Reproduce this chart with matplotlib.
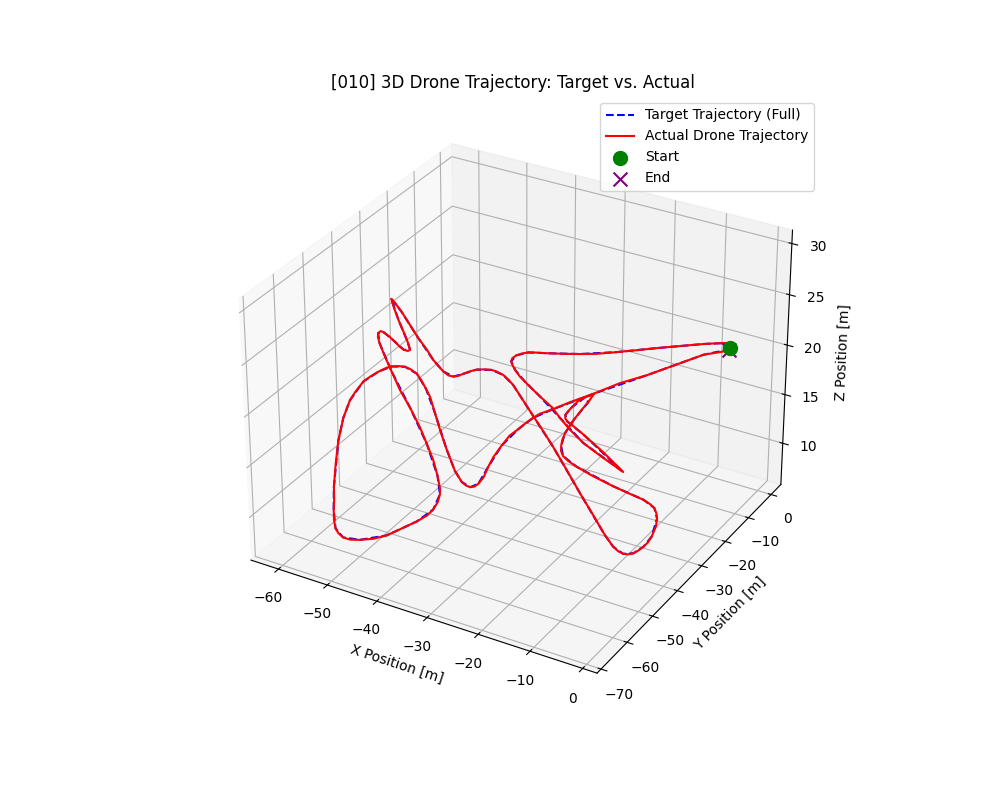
import matplotlib
matplotlib.use('Agg')
import matplotlib.pyplot as plt

# Actual drone trajectory [m]
actual_x = [-5.3,-5.2,-5.7,-6.2,-8.8,-12.0,-15.1,-17.8,-20.5,-23.2,-25.7,-28.2,-30.8,-32.7,-33.7,-34.5,-35.0,-35.1,-34.7,-33.8,
            -32.5,-30.8,-29.2,-27.6,-24.4,-20.7,-17.9,-14.6,-10.5,-6.1,-5.2,-11.2,-16.9,-20.3,-21.4,-22.2,-22.8,-23.0,-23.1,-23.2,
            -22.8,-22.0,-21.5,-21.2,-20.7,-20.2,-19.8,-19.1,-18.3,-17.5,-16.4,-14.8,-12.7,-8.9,-5.0,-3.8,-3.2,-2.8,-2.6,-2.1,
            -1.8,-1.8,-1.5,-1.2,-1.2,-1.4,-1.7,-2.3,-3.1,-4.2,-5.6,-7.3,-8.6,-13.4,-18.2,-23.4,-28.5,-32.1,-35.6,-39.7,
            -42.2,-42.9,-44.0,-45.6,-46.7,-47.9,-49.1,-49.8,-50.4,-50.8,-51.4,-52.4,-53.0,-53.2,-53.6,-54.2,-54.9,-55.8,-56.7,-57.2,
            -57.7,-55.5,-52.6,-49.7,-47.2,-45.8,-45.3,-45.4,-46.2,-47.6,-49.1,-51.1,-52.4,-53.1,-53.1,-52.4,-51.0,-47.8,-44.1,-42.9,
            -41.4,-39.7,-37.2,-35.4,-34.2,-32.9,-33.1,-32.8,-33.6,-34.2,-35.9,-38.0,-41.2,-43.3,-45.6,-47.8,-49.2,-50.6,-51.9,-53.6,
            -55.4,-57.1,-58.4,-58.7,-58.6,-58.5,-57.9,-58.0,-57.9,-57.7,-56.9,-56.6,-55.9,-55.4,-54.9,-53.9,-52.8,-51.5,-49.7,-47.8,
            -45.6,-43.5,-39.8,-36.2,-33.5,-32.1,-31.1,-30.2,-29.6,-28.4,-27.5,-27.0,-26.9,-27.2,-28.2,-29.1,-29.8,-30.3,-30.1,-30.0,
            -29.8,-29.5,-28.4,-26.9,-24.8,-21.4,-17.5,-12.2,-8.6,-6.1,-5.3]
actual_y = [-2.6,-3.5,-3.7,-4.5,-6.6,-9.6,-12.5,-15.2,-17.8,-20.3,-22.0,-23.5,-24.9,-25.8,-26.4,-27.4,-28.6,-29.9,-31.1,-32.3,
            -33.7,-35.3,-36.5,-37.7,-40.0,-42.5,-45.1,-47.9,-50.9,-52.1,-46.2,-41.8,-38.0,-35.9,-35.3,-34.5,-33.3,-31.8,-30.2,-27.5,
            -25.5,-23.8,-26.9,-30.2,-34.3,-37.3,-39.4,-41.8,-43.8,-45.4,-46.8,-47.9,-48.9,-50.3,-50.3,-46.3,-42.1,-40.3,-38.9,-39.1,
            -39.4,-39.8,-42.1,-44.2,-45.9,-47.6,-48.9,-49.7,-50.0,-49.7,-48.8,-47.2,-46.0,-40.9,-36.5,-31.5,-26.7,-23.5,-20.7,-16.9,
            -16.0,-16.4,-16.5,-16.0,-15.9,-16.4,-17.3,-18.5,-20.1,-21.3,-22.0,-22.1,-22.9,-24.5,-25.6,-26.8,-28.7,-30.1,-31.5,-32.9,
            -33.3,-36.2,-39.8,-43.2,-46.2,-48.0,-48.7,-49.3,-49.3,-48.5,-47.4,-46.1,-45.4,-45.3,-46.2,-47.5,-49.4,-53.2,-57.4,-56.7,
            -55.9,-55.6,-57.8,-58.8,-59.5,-61.0,-60.7,-62.1,-62.3,-63.5,-64.1,-65.1,-65.4,-66.5,-67.2,-66.9,-66.9,-66.1,-64.9,-62.5,
            -59.5,-56.4,-54.2,-52.8,-51.8,-50.9,-51.0,-49.5,-48.5,-46.9,-45.3,-43.4,-41.6,-39.5,-38.6,-37.8,-37.4,-37.7,-38.6,-40.4,
            -42.7,-45.0,-49.9,-54.7,-57.5,-58.1,-58.9,-59.2,-59.2,-59.9,-60.0,-59.4,-58.2,-55.7,-52.2,-48.5,-44.1,-40.1,-37.1,-34.1,
            -32.1,-30.1,-27.6,-23.3,-18.2,-14.3,-11.4,-8.9,-6.8,-3.7,-3.2]
actual_z = [20.1,20.6,20.8,20.9,20.9,20.9,20.9,20.9,20.9,20.9,20.9,20.9,20.9,20.9,20.9,20.9,20.9,20.9,20.9,20.9,
            20.9,20.9,20.9,20.9,20.9,20.9,20.9,20.9,20.9,20.4,17.8,17.8,17.8,17.8,17.8,17.8,17.8,17.8,17.8,17.8,
            17.8,17.8,17.8,17.8,17.8,17.8,17.8,17.8,17.8,17.8,17.8,17.8,17.8,17.8,17.4,15.9,14.4,13.6,12.9,12.5,
            12.1,11.4,11.0,11.0,11.0,11.0,11.0,11.0,11.0,11.0,11.0,11.0,11.0,11.0,11.4,11.8,12.2,12.5,12.9,13.1,
            14.1,14.6,15.0,15.0,15.0,15.0,15.0,15.0,15.0,15.0,15.0,15.0,15.5,16.4,17.2,18.4,19.9,21.4,22.9,24.0,
            24.4,24.4,24.4,24.4,24.4,24.4,24.4,24.4,24.4,24.4,24.4,24.4,24.4,24.4,24.4,24.4,24.4,24.4,24.4,22.6,
            20.9,19.2,18.5,17.4,16.2,15.5,14.8,14.4,13.6,13.2,12.5,11.8,10.6,10.2,9.9,9.5,9.5,9.5,9.5,9.5,
            9.5,9.5,10.1,12.1,14.2,15.2,16.4,17.0,17.6,18.1,18.9,19.0,19.2,19.2,19.2,19.2,19.2,19.2,19.2,19.2,
            19.2,19.2,19.2,19.2,18.5,17.4,17.0,16.6,16.2,16.2,16.2,16.2,16.2,16.2,16.2,16.2,16.2,16.2,16.2,16.2,
            16.2,16.2,16.2,16.2,16.2,16.9,17.6,19.0,19.9,19.9,20.1]

# Target trajectory [m], nearly on top of the actual one, coarser sampling
target_x = [-5.3,-5.7,-8.8,-15.1,-20.5,-25.7,-30.8,-33.7,-35.0,-34.7,-32.5,-29.2,-24.4,-17.9,-10.5,-5.2,-16.9,-21.4,-22.8,-23.1,
            -22.8,-21.5,-20.7,-19.8,-18.3,-16.4,-12.7,-5.0,-3.2,-2.6,-1.8,-1.5,-1.2,-1.7,-3.1,-5.6,-8.6,-18.2,-28.5,-35.6,
            -42.2,-44.0,-46.7,-49.1,-50.4,-51.4,-53.0,-53.6,-54.9,-56.7,-57.7,-52.6,-47.2,-45.3,-46.2,-49.1,-52.4,-53.1,-51.0,-44.1,
            -41.4,-37.2,-34.2,-33.1,-33.6,-35.9,-41.2,-45.6,-49.2,-51.9,-55.4,-58.4,-58.6,-57.9,-57.9,-56.9,-55.9,-54.9,-52.8,-49.7,
            -45.6,-39.8,-33.5,-31.1,-29.6,-27.5,-26.9,-28.2,-29.8,-30.1,-29.8,-28.4,-24.8,-17.5,-8.6,-5.3]
target_y = [-2.6,-3.7,-6.6,-12.5,-17.8,-22.0,-24.9,-26.4,-28.6,-31.1,-33.7,-36.5,-40.0,-45.1,-50.9,-46.2,-38.0,-35.3,-33.3,-30.2,
            -25.5,-26.9,-34.3,-39.4,-43.8,-46.8,-48.9,-50.3,-42.1,-38.9,-39.4,-42.1,-45.9,-48.9,-50.0,-48.8,-46.0,-36.5,-26.7,-20.7,
            -16.0,-16.5,-15.9,-17.3,-20.1,-22.0,-22.9,-25.6,-28.7,-31.5,-33.3,-39.8,-46.2,-48.7,-49.3,-47.4,-45.4,-46.2,-49.4,-57.4,
            -55.9,-57.8,-59.5,-60.7,-62.3,-64.1,-65.4,-67.2,-66.9,-64.9,-59.5,-54.2,-51.8,-51.0,-48.5,-45.3,-41.6,-38.6,-37.4,-38.6,
            -42.7,-49.9,-57.5,-58.9,-59.2,-60.0,-58.2,-52.2,-44.1,-37.1,-32.1,-27.6,-18.2,-11.4,-6.8,-3.2]
target_z = [20.1,20.8,20.9,20.9,20.9,20.9,20.9,20.9,20.9,20.9,20.9,20.9,20.9,20.9,20.9,17.8,17.8,17.8,17.8,17.8,
            17.8,17.8,17.8,17.8,17.8,17.8,17.8,17.4,14.4,12.9,12.1,11.0,11.0,11.0,11.0,11.0,11.0,11.4,12.2,12.9,
            14.1,15.0,15.0,15.0,15.0,15.0,15.5,17.2,19.9,22.9,24.4,24.4,24.4,24.4,24.4,24.4,24.4,24.4,24.4,24.4,
            20.9,18.5,16.2,14.8,13.6,12.5,10.6,9.9,9.5,9.5,9.5,10.1,14.2,16.4,17.6,18.9,19.2,19.2,19.2,19.2,
            19.2,19.2,18.5,17.0,16.2,16.2,16.2,16.2,16.2,16.2,16.2,16.2,16.2,17.6,19.9,20.1]

fig = plt.figure(figsize=(10, 8))
ax = fig.add_subplot(111, projection='3d')
ax.computed_zorder = False

ax.plot(target_x, target_y, target_z, 'b--', label='Target Trajectory (Full)', zorder=2)
ax.plot(actual_x, actual_y, actual_z, 'r-', label='Actual Drone Trajectory', zorder=3)
ax.scatter(actual_x[0], actual_y[0], actual_z[0], c='green', s=100, label='Start', depthshade=False, zorder=5)
ax.scatter(actual_x[-1], actual_y[-1], actual_z[-1], c='purple', s=100, marker='x', label='End', depthshade=False, zorder=4)

ax.set_xlim(-65.7, 2.7)
ax.set_ylim(-71.5, 4.4)
ax.set_zlim(5.7, 31.3)
ax.set_xlabel('X Position [m]')
ax.set_ylabel('Y Position [m]')
ax.set_zlabel('Z Position [m]')
ax.set_title('[010] 3D Drone Trajectory: Target vs. Actual')
ax.legend()

fig.savefig('out.png', dpi=100)
